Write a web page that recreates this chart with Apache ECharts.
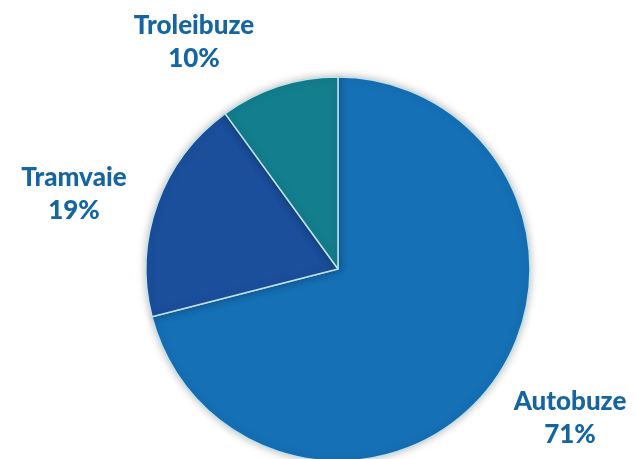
<!DOCTYPE html>
<html>
<head>
<meta charset="utf-8">
<script src="https://cdn.jsdelivr.net/npm/echarts@6/dist/echarts.min.js"></script>
<style>
html, body { margin: 0; padding: 0; background: #fff; }
#chart { width: 636px; height: 459px; }
</style>
</head>
<body>
<div id="chart"></div>
<script type="text/javascript">
// date
var categories = ['Autobuze', 'Tramvaie', 'Troleibuze'];
var values = [71, 19, 10];
var colors = ['#1670b6', '#1b4f9c', '#137e8e'];

// pozitii etichete (centru text)
var labelPos = {
    'Autobuze': [570, 418],
    'Tramvaie': [74, 194],
    'Troleibuze': [194, 42]
};

var chart = echarts.init(document.getElementById('chart'));
var option = {
    animation: false,
    color: colors,
    series: [{
        type: 'pie',
        center: [338, 269],
        radius: 192,
        startAngle: 90,
        clockwise: true,
        itemStyle: {
            borderColor: '#bfe3ea',
            borderWidth: 1.5,
            shadowBlur: 8,
            shadowColor: 'rgba(0, 0, 0, 0.25)'
        },
        label: {
            show: true,
            formatter: '{b}\n{c}%',
            color: '#1565a0',
            fontFamily: 'Lato',
            fontWeight: 900,
            fontSize: 26,
            lineHeight: 33,
            align: 'center',
            overflow: 'none',
            width: 200
        },
        labelLine: { show: false },
        labelLayout: function (params) {
            var p = labelPos[categories[params.dataIndex]];
            return { x: p[0], y: p[1], align: 'center', verticalAlign: 'middle' };
        },
        emphasis: { disabled: true },
        data: categories.map(function (c, i) {
            return { name: c, value: values[i] };
        })
    }]
};
chart.setOption(option);
</script>
</body>
</html>
